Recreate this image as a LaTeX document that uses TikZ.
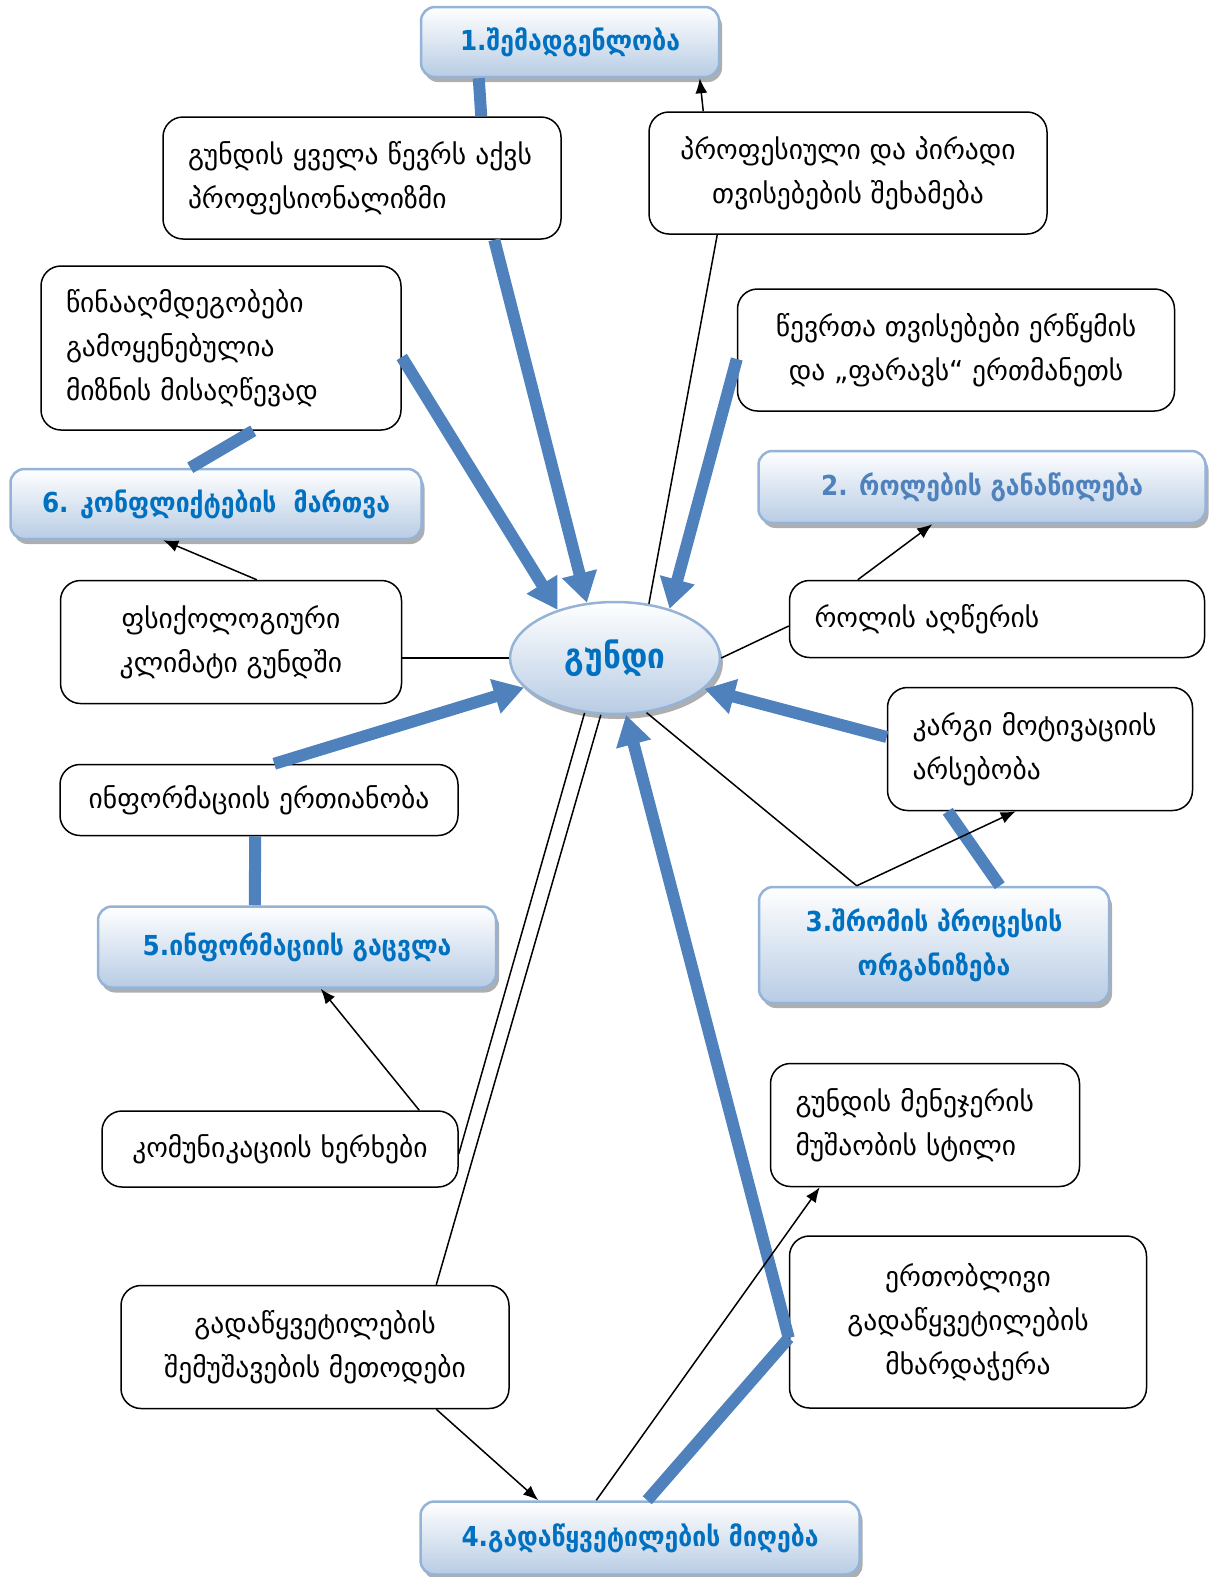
\documentclass[tikz,border=0pt]{standalone}
\usepackage{fontspec}
\setmainfont{DejaVu Sans}
\newfontfamily\hdfont{DejaVu Sans Condensed}
\usetikzlibrary{arrows.meta,shadows,shapes.geometric}
\definecolor{bandblue}{RGB}{79,129,189}
\definecolor{hdborder}{RGB}{149,179,215}
\definecolor{hdfill}{RGB}{184,204,228}
\definecolor{hdtext}{RGB}{0,112,192}

\begin{document}
\begin{tikzpicture}[x=1pt, y=-1pt, >={Latex[length=15pt,width=12pt]},
	card/.style={draw, fill=white, line width=1.5pt, rounded corners=20pt, align=center, inner sep=0pt, font=\fontsize{27.5}{44}\selectfont},
	lcard/.style={card, align=left, inner xsep=25pt},
	head/.style={draw=hdborder, line width=2.5pt, rounded corners=14pt, top color=white, bottom color=hdfill, text=hdtext, align=center, inner sep=0pt, font=\hdfont\bfseries\fontsize{27.5}{44}\selectfont, drop shadow={shadow xshift=3pt, shadow yshift=-5pt, fill=black!45, opacity=.7}},
	band/.style={bandblue, line width=12pt},
	bandarrow/.style={band, -{Triangle[length=30pt,width=34pt]}},
	thin/.style={line width=1.5pt}]

				\useasboundingbox (0,0) rectangle (1211,1577);

				% headings
				\node[head, minimum width=298pt, minimum height=70pt] (hd1) at (570,42) {1.შემადგენლობა};
				\node[head, text=bandblue, minimum width=447pt, minimum height=72pt] (hd2) at (982,487) {2. როლების განაწილება};
				\node[head, minimum width=350pt, minimum height=116pt] (hd3) at (934,945) {3.შრომის პროცესის\\ორგანიზება};
				\node[head, minimum width=439pt, minimum height=73pt] (hd4) at (640,1538) {4.გადაწყვეტილების მიღება};
				\node[head, minimum width=398pt, minimum height=81pt] (hd5) at (297,947) {5.ინფორმაციის გაცვლა};
				\node[head, minimum width=411pt, minimum height=70pt] (hd6) at (216,504) {6. კონფლიქტების\ \ მართვა};

				\node[head, ellipse, rounded corners=0pt, minimum width=210pt, minimum height=112pt, font=\hdfont\bfseries\fontsize{35}{40}\selectfont] (team) at (615,658) {გუნდი};

				% boxes
				\node[lcard, text width=348pt, minimum height=122pt] (pro) at (362,178) {გუნდის ყველა წევრს აქვს\\პროფესიონალიზმი};
				\node[card, minimum width=398pt, minimum height=122pt] (traits) at (848,173) {პროფესიული და პირადი\\თვისებების შეხამება};
				\node[lcard, text width=310pt, minimum height=164pt] (opp) at (221,348) {წინააღმდეგობები\\გამოყენებულია\\მიზნის მისაღწევად};
				\node[card, minimum width=437pt, minimum height=122pt] (mix) at (956,350) {წევრთა თვისებები ერწყმის\\და „ფარავს“ ერთმანეთს};
				\node[card, minimum width=341pt, minimum height=123pt] (clim) at (231,642) {ფსიქოლოგიური\\კლიმატი გუნდში};
				\node[lcard, text width=365pt, minimum height=77pt] (role) at (997,619) {როლის აღწერის};
				\node[lcard, text width=255pt, minimum height=123pt] (motiv) at (1040,749) {კარგი მოტივაციის\\არსებობა};
				\node[card, minimum width=398pt, minimum height=71pt] (unity) at (259,800) {ინფორმაციის ერთიანობა};
				\node[card, minimum width=356pt, minimum height=76pt] (chan) at (280,1149) {კომუნიკაციის ხერხები};
				\node[lcard, text width=259pt, minimum height=123pt] (style) at (925,1125) {გუნდის მენეჯერის\\მუშაობის სტილი};
				\node[card, minimum width=357pt, minimum height=172pt] (joint) at (968,1322) {ერთობლივი\\გადაწყვეტილების\\მხარდაჭერა};
				\node[card, minimum width=388pt, minimum height=123pt] (meth) at (315,1347) {გადაწყვეტილების\\შემუშავების მეთოდები};

				% thick links
				\draw[band] ([xshift=59pt]hd1.south west) -- ([xshift=319pt]pro.north west);
				\draw[bandarrow] ([xshift=332pt]pro.south west) -- (team.117);
				\draw[bandarrow] ([yshift=-9pt]opp.east) -- (team.140);
				\draw[bandarrow] ([yshift=-9pt]mix.west) -- (team.42);
				\draw[band] ([xshift=213pt]opp.south west) -- ([xshift=181pt]hd6.north west);
				\draw[bandarrow] ([xshift=215pt]unity.north west) -- (team.198);
				\draw[band] ([xshift=196pt]unity.south west) -- ([xshift=158pt]hd5.north west);
				\draw[bandarrow] ([yshift=12pt]motiv.west) -- (team.-19);
				\draw[band] ([xshift=61pt]motiv.south west) -- ([xshift=242pt]hd3.north west);
				\draw[bandarrow] ([yshift=-16pt]joint.west) -- (team.-79);
				\draw[band] ([yshift=-16pt]joint.west) -- ([xshift=228pt]hd4.north west);

				% thin links
				\draw[thin,->] ([xshift=55pt]traits.north west) -- ([xshift=280pt]hd1.south west);
				\draw[thin] ([xshift=69pt]traits.south west) -- (team.58);
				\draw[thin,->] ([xshift=197pt]clim.north west) -- ([xshift=154pt]hd6.south west);
				\draw[thin] (team.west) -- (team.west -| clim.east);
				\draw[thin] ([yshift=-7pt]role.west) -- (team.east);
				\draw[thin,->] ([xshift=69pt]role.north west) -- ([xshift=175pt]hd2.south west);
				\draw[thin] (team.-60) -- ([xshift=99pt]hd3.north west);
				\draw[thin,->] ([xshift=99pt]hd3.north west) -- ([xshift=129pt]motiv.south west);
				\draw[thin] (team.241) -- ([yshift=-5pt]chan.east);
				\draw[thin] (team.256) -- ([xshift=316pt]meth.north west);
				\draw[thin,->] ([xshift=316pt]meth.south west) -- ([xshift=119pt]hd4.north west);
				\draw[thin,->] ([xshift=177pt]hd4.north west) -- ([xshift=50pt]style.south west);
				\draw[thin,->] ([xshift=318pt]chan.north west) -- ([xshift=224pt]hd5.south west);

\end{tikzpicture}
\end{document}
